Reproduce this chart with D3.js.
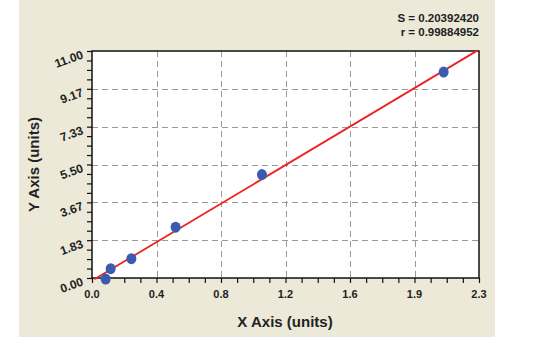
<!DOCTYPE html>
<html>
<head>
<meta charset="utf-8">
<script src="https://cdn.jsdelivr.net/npm/d3@7"></script>
<style>
  html, body { margin: 0; padding: 0; background: #ffffff; }
  svg { display: block; }
  text { font-family: "Liberation Sans", Arial, sans-serif; font-weight: bold; fill: #222; }
</style>
</head>
<body>
<svg id="chart" width="554" height="342"></svg>
<script>
// ---- data ----
const pointX = [0.081, 0.111, 0.234, 0.497, 1.010, 2.090];
const pointY = [-0.05, 0.45, 0.935, 2.46, 5.01, 9.98];
const fitX = [0.014, 2.292];
const fitY = [-0.06, 11.03];
const xTickLabels = ["0.0", "0.4", "0.8", "1.2", "1.6", "1.9", "2.3"];
const yTickLabels = ["0.00", "1.83", "3.67", "5.50", "7.33", "9.17", "11.00"];
const xDomain = [0, 2.3];
const yDomain = [0, 11];
const statLines = ["S = 0.20392420", "r = 0.99884952"];
const xTitle = "X Axis (units)";
const yTitle = "Y Axis (units)";

// ---- layout ----
const svg = d3.select("#chart");
const L = 92, R = 479, T = 51, B = 278;

svg.append("rect").attr("x", 19).attr("y", 0).attr("width", 476).attr("height", 337)
  .attr("fill", "#ece9d8");

const x = d3.scaleLinear().domain(xDomain).range([L, R]);
const y = d3.scaleLinear().domain(yDomain).range([B, T]);

const nMajor = xTickLabels.length - 1;
const xMajor = d3.range(xTickLabels.length).map(i => xDomain[0] + (xDomain[1] - xDomain[0]) * i / nMajor);
const yMajor = d3.range(yTickLabels.length).map(i => yDomain[0] + (yDomain[1] - yDomain[0]) * i / (yTickLabels.length - 1));
const xMinor = d3.range(nMajor * 4 + 1).map(i => xDomain[0] + (xDomain[1] - xDomain[0]) * i / (nMajor * 4));
const yMinor = d3.range((yTickLabels.length - 1) * 4 + 1).map(i => yDomain[0] + (yDomain[1] - yDomain[0]) * i / ((yTickLabels.length - 1) * 4));

// plot background
svg.append("rect").attr("x", L).attr("y", T).attr("width", R - L).attr("height", B - T)
  .attr("fill", "#ffffff");

// grid
const grid = svg.append("g").attr("stroke", "#9a9a9a").attr("stroke-width", 1)
  .attr("stroke-dasharray", "6,4");
xMajor.slice(1, -1).forEach(v => {
  grid.append("line").attr("x1", Math.round(x(v)) + 0.5).attr("x2", Math.round(x(v)) + 0.5)
    .attr("y1", T).attr("y2", B);
});
yMajor.slice(1, -1).forEach(v => {
  grid.append("line").attr("y1", Math.round(y(v)) + 0.5).attr("y2", Math.round(y(v)) + 0.5)
    .attr("x1", L).attr("x2", R);
});

// axes with ticks
const xAxis = d3.axisBottom(x).tickValues(xMinor).tickSize(5).tickFormat("");
const gx = svg.append("g").attr("transform", `translate(0,${B})`).call(xAxis);
const yAxis = d3.axisLeft(y).tickValues(yMinor).tickSize(5).tickFormat("");
const gy = svg.append("g").attr("transform", `translate(${L},0)`).call(yAxis);
[gx, gy].forEach(g => {
  g.selectAll("path").remove();
  g.selectAll("line").attr("stroke", "#111").attr("stroke-width", 1.2);
});

// frame
svg.append("rect").attr("x", L).attr("y", T).attr("width", R - L).attr("height", B - T)
  .attr("fill", "none").attr("stroke", "#111").attr("stroke-width", 1.5);

// x tick labels
svg.append("g").selectAll("text").data(xMajor).join("text")
  .attr("x", d => x(d)).attr("y", B + 20)
  .attr("text-anchor", "middle").attr("font-size", 11)
  .text((d, i) => xTickLabels[i]);

// y tick labels (rotated)
svg.append("g").selectAll("text").data(yMajor).join("text")
  .attr("transform", d => `translate(${L - 8},${y(d) + 7}) rotate(-20)`)
  .attr("text-anchor", "end").attr("font-size", 12)
  .text((d, i) => yTickLabels[i]);

// fit line (clipped)
svg.append("clipPath").attr("id", "clip").append("rect")
  .attr("x", L - 2).attr("y", T - 2).attr("width", R - L + 4).attr("height", B - T + 4);
const line = d3.line().x(d => x(d[0])).y(d => y(d[1]));
svg.append("path").datum(fitX.map((v, i) => [v, fitY[i]]))
  .attr("d", line).attr("fill", "none").attr("stroke", "#ee2222").attr("stroke-width", 1.8)
  .attr("clip-path", "url(#clip)");

// points
svg.append("g").selectAll("ellipse").data(pointX.map((v, i) => [v, pointY[i]])).join("ellipse")
  .attr("cx", d => x(d[0])).attr("cy", d => y(d[1])).attr("rx", 5).attr("ry", 5.5)
  .attr("fill", "#3a5bb0");

// stats
svg.append("g").selectAll("text").data(statLines).join("text")
  .attr("x", R).attr("y", (d, i) => 22 + i * 14)
  .attr("text-anchor", "end").attr("font-size", 11.5)
  .text(d => d);

// axis titles
svg.append("text").attr("x", 285).attr("y", 327)
  .attr("text-anchor", "middle").attr("font-size", 15).text(xTitle);
svg.append("text").attr("transform", `translate(39,${(T + B) / 2}) rotate(-90)`)
  .attr("text-anchor", "middle").attr("font-size", 15).text(yTitle);
</script>
</body>
</html>
